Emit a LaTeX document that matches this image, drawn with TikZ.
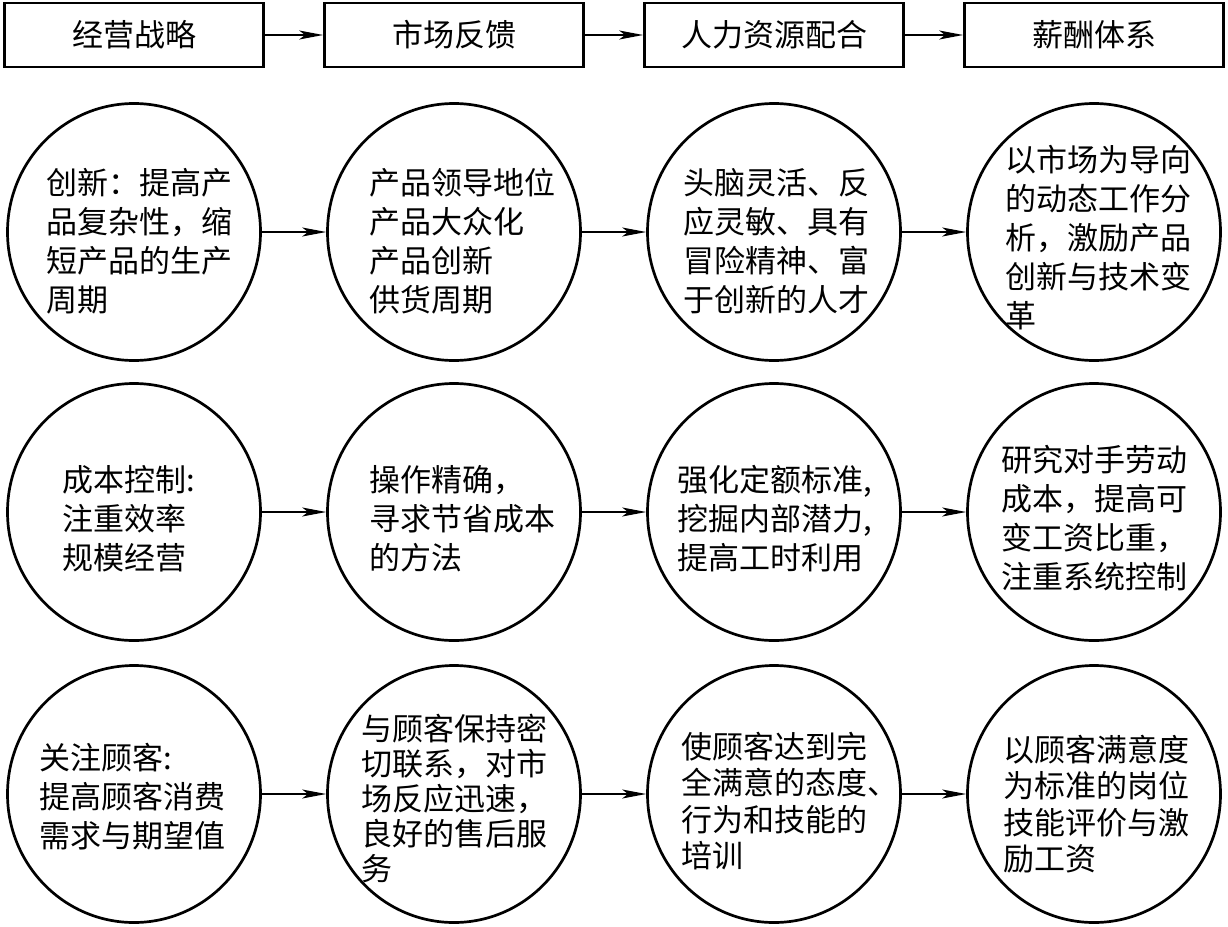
\documentclass[tikz,border=0pt]{standalone}
\usepackage{fontspec}
\newfontfamily\cjk{Noto Sans CJK SC}
\usetikzlibrary{shapes.geometric,arrows.meta}
\begin{document}
\begin{tikzpicture}[x=1pt,y=-1pt,
  hbox/.style={draw,line width=2.7pt,minimum width=259pt,minimum height=64pt,inner sep=0pt,font=\cjk\fontsize{31}{39}\selectfont},
  ell/.style={draw,ellipse,line width=2.7pt,minimum width=253pt,minimum height=257pt,inner sep=0pt},
  txt/.style={anchor=west,align=left,inner sep=0pt,font=\cjk\fontsize{31}{39}\selectfont},
  tight/.style={font=\cjk\fontsize{31}{35}\selectfont},
  mid/.style={font=\cjk\fontsize{31}{36.5}\selectfont},
  toparr/.style={line width=1.5pt,-{Stealth[length=24pt,width=9pt,inset=6pt]}},
  carr/.style={line width=1.2pt,-{Stealth[length=24pt,width=9pt,inset=6pt]}}]
\useasboundingbox (0,0) rectangle (1228,926);
% header boxes
\node[hbox] (b1) at (134,35) {经营战略};
\node[hbox] (b2) at (454,35) {市场反馈};
\node[hbox] (b3) at (774,35) {人力资源配合};
\node[hbox] (b4) at (1094,35) {薪酬体系};
\draw[toparr] (b1) -- (b2);
\draw[toparr] (b2) -- (b3);
\draw[toparr] (b3) -- (b4);
% ellipses
\foreach \r/\y in {1/232,2/512,3/794}{
  \foreach \c/\x in {1/134,2/454,3/774,4/1094}{
    \node[ell] (c\r\c) at (\x,\y) {};
  }
  \draw[carr] (c\r1) -- (c\r2);
  \draw[carr] (c\r2) -- (c\r3);
  \draw[carr] (c\r3) -- (c\r4);
}
% texts row 1
\node[txt] (t11) at (46,241) {创新：提高产\\品复杂性，缩\\短产品的生产\\周期};
\node[txt] (t12) at (369,241) {产品领导地位\\产品大众化\\产品创新\\供货周期};
\node[txt] (t13) at (683,241) {头脑灵活、反\\应灵敏、具有\\冒险精神、富\\于创新的人才};
\node[txt] (t14) at (1005,238) {以市场为导向\\的动态工作分\\析，激励产品\\创新与技术变\\革};
% row 2
\node[txt] (t21) at (62,519) {成本控制:\\注重效率\\规模经营};
\node[txt] (t22) at (369,519) {操作精确，\\寻求节省成本\\的方法};
\node[txt] (t23) at (677,519) {强化定额标准,\\挖掘内部潜力,\\提高工时利用};
\node[txt] (t24) at (1001,518) {研究对手劳动\\成本，提高可\\变工资比重，\\注重系统控制};
% row 3
\node[txt] (t31) at (39,797) {关注顾客:\\提高顾客消费\\需求与期望值};
\node[txt,tight] (t32) at (361,799) {与顾客保持密\\切联系，对市\\场反应迅速，\\良好的售后服\\务};
\node[txt,mid] (t33) at (681,801) {使顾客达到完\\全满意的态度、\\行为和技能的\\培训};
\node[txt,mid] (t34) at (1003,804) {以顾客满意度\\为标准的岗位\\技能评价与激\\励工资};
\end{tikzpicture}
\end{document}
